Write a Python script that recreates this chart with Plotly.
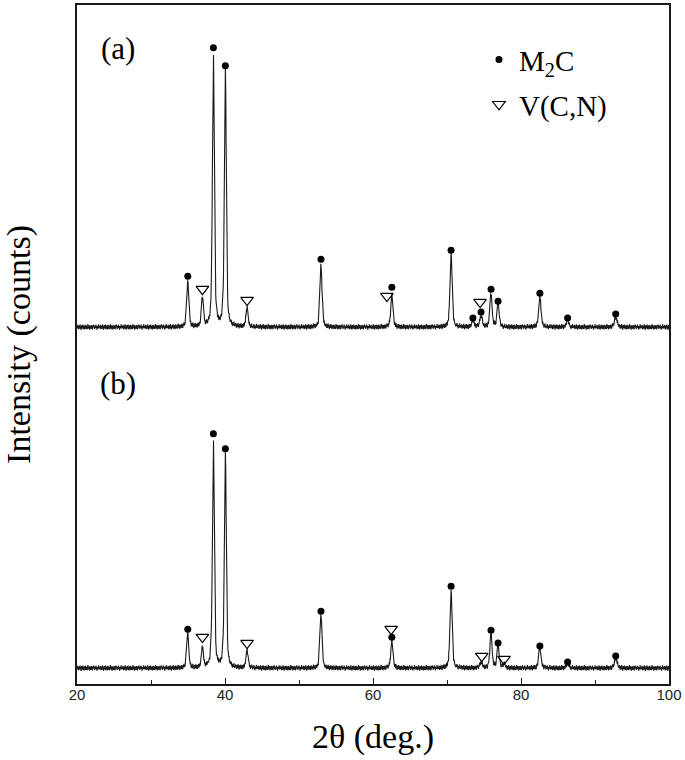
import numpy as np
import plotly.graph_objects as go

# ---------------- data ----------------
# diffraction peaks (2theta, deg) shared by both patterns
peak_angles = [34.97, 36.95, 38.43, 40.05, 42.98, 52.97, 62.55, 70.55,
               73.5, 74.6, 75.95, 76.9, 77.7, 82.55, 86.3, 92.8]
peak_fwhm   = [0.32, 0.32, 0.30, 0.30, 0.34, 0.32, 0.36, 0.34,
               0.36, 0.36, 0.34, 0.34, 0.36, 0.38, 0.40, 0.42]
# peak heights above baseline (counts, arbitrary)
heights_a = [46, 29, 276, 258, 19, 63, 31, 74, 7, 12, 34, 23, 0, 31, 7, 10]
heights_b = [35, 21, 231, 216, 18, 53, 26, 78, 0, 6, 35, 22, 4, 20, 5, 10]

# vertical offsets of the two stacked patterns (counts)
offset_a = 358
offset_b = 16

# baseline counting noise (counts), read as typical fluctuation
baseline_noise = [0.8, -1.2, 2.1, -0.4, -2.3, 1.5, 0.2, -1.7, 2.6, -0.9, 1.1, -2.8,
                  0.5, 1.9, -1.4, -0.3, 2.4, -2.1, 0.7, -0.6, 1.6, -2.5, 0.1, 2.2,
                  -1.0, -1.8, 1.3, 0.4, -2.2, 2.8, -0.7, 0.9, -1.5, 1.8, -2.6, 0.3,
                  1.4, -0.2, -1.9, 2.0, -1.1, 0.6, -2.4, 1.7, -0.5, 2.5, -1.3, 0.0,
                  -2.0, 1.2, -0.8, 2.3, -1.6, 0.9, -2.7, 1.0, 0.4, -1.2, 2.7, -0.1, -1.5]

# phase markers: angle and level above baseline (counts)
a_m2c_angles = [34.97, 38.43, 40.05, 52.97, 62.55, 70.55, 73.5, 74.6, 75.95, 76.9, 82.55, 86.3, 92.8]
a_m2c_levels = [51, 280, 262, 68, 40, 77, 9, 15, 38, 26, 34, 9, 13]
a_vcn_angles = [36.95, 42.98, 61.88, 74.47]
a_vcn_levels = [38, 27, 31, 25]

b_m2c_angles = [34.97, 38.43, 40.05, 52.97, 62.55, 70.55, 75.95, 76.9, 82.55, 86.3, 92.8]
b_m2c_levels = [39, 235, 220, 57, 31, 82, 38, 25, 22, 6, 12]
b_vcn_angles = [36.95, 42.98, 62.45, 74.7, 77.7]
b_vcn_levels = [31, 25, 39, 12, 9]

x_ticks = [20, 40, 60, 80, 100]
x_minor = [30, 50, 70, 90]

# ---------------- build profiles ----------------
two_theta = np.arange(20.0, 100.0001, 0.05)
noise = np.resize(np.array(baseline_noise), two_theta.size)


def profile(heights, offset):
    y = np.zeros_like(two_theta)
    for c, w, h in zip(peak_angles, peak_fwhm, heights):
        d2 = 4.0 * (two_theta - c) ** 2 / w ** 2
        y += h * (0.5 / (1.0 + d2) + 0.5 * np.exp(-np.log(2) * d2))
    return y + offset + noise


ya = profile(heights_a, offset_a)
yb = profile(heights_b, offset_b)

LINE = "#1a1a1a"
SERIF = "Liberation Serif, Times New Roman, serif"

fig = go.Figure()
fig.add_trace(go.Scatter(x=two_theta, y=ya, mode="lines", line=dict(color=LINE, width=1.1),
                         showlegend=False, hoverinfo="skip"))
fig.add_trace(go.Scatter(x=two_theta, y=yb, mode="lines", line=dict(color=LINE, width=1.1),
                         showlegend=False, hoverinfo="skip"))

dot = dict(symbol="circle", size=7, color="black")
tri = dict(symbol="triangle-down-open", size=11, color="black", line=dict(color="black", width=1.2))

fig.add_trace(go.Scatter(x=a_m2c_angles, y=[offset_a + v for v in a_m2c_levels], mode="markers",
                         marker=dot, name="M<sub>2</sub>C", legendgroup="m2c"))
fig.add_trace(go.Scatter(x=a_vcn_angles, y=[offset_a + v for v in a_vcn_levels], mode="markers",
                         marker=tri, name="V(C,N)", legendgroup="vcn"))
fig.add_trace(go.Scatter(x=b_m2c_angles, y=[offset_b + v for v in b_m2c_levels], mode="markers",
                         marker=dot, name="M<sub>2</sub>C", legendgroup="m2c", showlegend=False))
fig.add_trace(go.Scatter(x=b_vcn_angles, y=[offset_b + v for v in b_vcn_levels], mode="markers",
                         marker=tri, name="V(C,N)", legendgroup="vcn", showlegend=False))

fig.update_layout(
    width=685, height=760,
    margin=dict(l=77, r=15, t=3, b=76),
    paper_bgcolor="white", plot_bgcolor="white",
    showlegend=True,
    legend=dict(x=0.679, y=0.957, xanchor="left", yanchor="top",
                font=dict(family=SERIF, size=29, color="black"),
                bgcolor="rgba(0,0,0,0)", borderwidth=0, itemwidth=30, tracegroupgap=4),
    xaxis=dict(range=[20, 100], tickvals=x_ticks, ticktext=[str(t) for t in x_ticks],
               ticks="inside", ticklen=6, tickwidth=1.2, tickcolor=LINE,
               minor=dict(tickvals=x_minor, ticks="inside", ticklen=4, tickwidth=1.2, tickcolor=LINE),
               showline=True, mirror=True, linecolor=LINE, linewidth=1.5,
               showgrid=False, zeroline=False, ticklabelstandoff=-4,
               tickfont=dict(family="Liberation Sans, Arial, sans-serif", size=15, color="#222"),
               title=dict(text="2θ (deg.)", font=dict(family=SERIF, size=34, color="black"), standoff=22)),
    yaxis=dict(range=[0, 681], showticklabels=False, ticks="",
               showline=True, mirror=True, linecolor=LINE, linewidth=1.5,
               showgrid=False, zeroline=False,
               title=dict(text="Intensity (counts)", font=dict(family=SERIF, size=34, color="black"),
                          standoff=40)),
    annotations=[
        dict(text="(a)", xref="paper", yref="paper", x=0.069, y=0.936, xanchor="center",
             yanchor="middle", showarrow=False, font=dict(family=SERIF, size=31, color="black")),
        dict(text="(b)", xref="paper", yref="paper", x=0.069, y=0.443, xanchor="center",
             yanchor="middle", showarrow=False, font=dict(family=SERIF, size=31, color="black")),
    ],
)

fig.write_html("out.html", config={"displayModeBar": False},
               post_script="document.body.style.margin='0';")
